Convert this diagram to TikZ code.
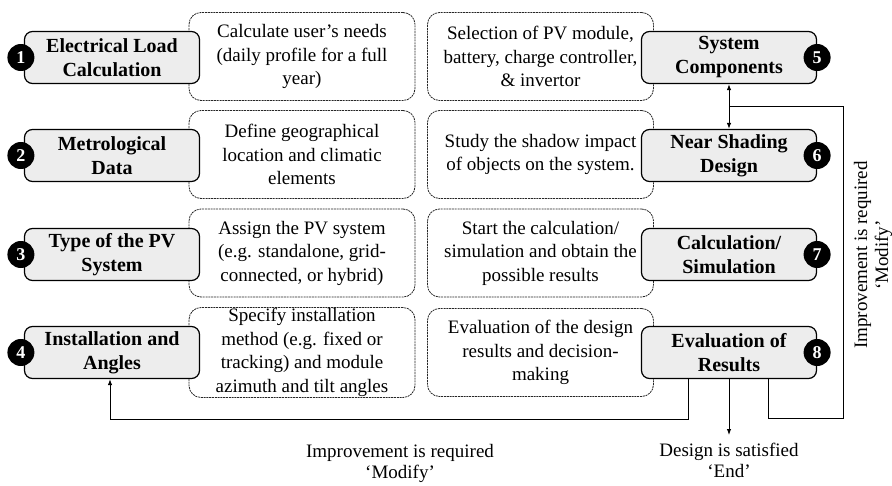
\documentclass[tikz,border=0pt]{standalone}
\usepackage{fontspec}
\setmainfont{Liberation Serif}
\usetikzlibrary{arrows.meta}

\tikzset{
  descbox/.style={draw=black!85, line width=0.8pt, dash pattern=on 2pt off 0.8pt,
    rounded corners=12pt, minimum width=226pt, minimum height=88pt,
    align=center, font=\fontsize{19}{23.5}\selectfont, inner sep=1pt},
  stagebox/.style={draw=black, line width=1.2pt, fill=black!7, rounded corners=8pt,
    minimum width=175pt, minimum height=52pt, align=center,
    font=\fontsize{20}{24}\selectfont\bfseries, inner sep=1pt},
  badge/.style={circle, fill=black, text=white, minimum size=27pt, inner sep=0pt,
    font=\fontsize{18}{18}\selectfont\bfseries},
  flow/.style={line width=1pt, -{Latex[length=6pt,width=4.5pt]}},
  plain/.style={line width=1pt},
  note/.style={align=center, font=\fontsize{19}{21}\selectfont}
}

\begin{document}
\begin{tikzpicture}[x=1pt,y=-1pt]
\useasboundingbox (0,0) rectangle (892,485);

% description boxes, left column
\node[descbox] (d1) at (302,56.5) {Calculate user's needs\\(daily profile for a full\\year)};
\node[descbox] (d2) at (302,154.5) {Define geographical\\location and climatic\\elements};
\node[descbox] (d3) at (302,253) {Assign the PV system\\(e.g. standalone, grid-\\connected, or hybrid)};
\node[descbox] (d4) at (302,352.5) {Specify installation\\method (e.g. fixed or\\tracking) and module\\azimuth and tilt angles};

% description boxes, right column
\node[descbox] (d5) at (540.5,56.5) {Selection of PV module,\\battery, charge controller,\\\& invertor};
\node[descbox] (d6) at (540.5,154.5) {Study the shadow impact\\of objects on the system.};
\node[descbox] (d7) at (540.5,253) {Start the calculation/\\simulation and obtain the\\possible results};
\node[descbox] (d8) at (540.5,352.5) {Evaluation of the design\\results and decision-\\making};

% stage boxes
\node[stagebox] (b1) at (112,57.5) {Electrical Load\\Calculation};
\node[stagebox] (b2) at (112,155.5) {Metrological\\Data};
\node[stagebox] (b3) at (112,254.5) {Type of the PV\\System};
\node[stagebox] (b4) at (112,352.5) {Installation and\\Angles};
\node[stagebox] (b5) at (729,57.5) {System\\Components};
\node[stagebox] (b6) at (729,155.5) {Near Shading\\Design};
\node[stagebox] (b7) at (729,254.5) {Calculation/\\Simulation};
\node[stagebox] (b8) at (729,352.5) {Evaluation of\\Results};

% numbered badges
\node[badge] (n1) at ([xshift=-3pt]b1.west) {1};
\node[badge] (n2) at ([xshift=-3pt]b2.west) {2};
\node[badge] (n3) at ([xshift=-3pt]b3.west) {3};
\node[badge] (n4) at ([xshift=-3pt]b4.west) {4};
\node[badge] (n5) at (b5.east) {5};
\node[badge] (n6) at (b6.east) {6};
\node[badge] (n7) at (b7.east) {7};
\node[badge] (n8) at (b8.east) {8};

% feedback loop back to the system components / shading design
\coordinate (j) at (729,106);
\coordinate (rb) at (843,418);
\draw[plain] ([xshift=39pt]b8.south) |- (rb) |- (j);
\draw[flow] (j) -- (b5.south);
\draw[flow] (j) -- (b6.north);

% feedback loop back to installation and angles
\coordinate (lb) at (110,419);
\draw[flow] ([xshift=-41pt]b8.south) |- (lb) -- (lb |- b4.south);

% end of design
\coordinate (e) at (729,435);
\draw[flow] (b8.south) -- (e);

% labels
\node[note] (m1) at (400,463) {Improvement is required\\‘Modify’};
\node[note, anchor=north] (m2) at (729,440) {Design is satisfied\\‘End’};
\node[note, rotate=90] (m3) at (873,255) {Improvement is required\\‘Modify’};
\end{tikzpicture}
\end{document}
